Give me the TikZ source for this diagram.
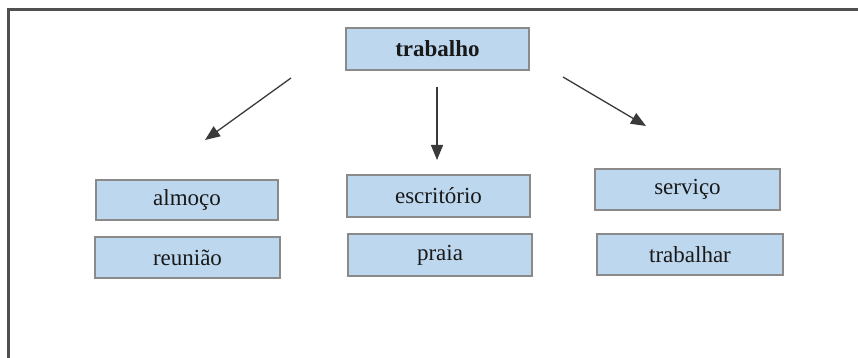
\documentclass[tikz,border=0pt]{standalone}
\usepackage{fontspec}
\setmainfont{Liberation Serif}
\usetikzlibrary{arrows.meta}
\definecolor{boxfill}{HTML}{BDD7EE}
\definecolor{boxline}{HTML}{8A8A8A}
\definecolor{framegray}{HTML}{505050}
\definecolor{inkgray}{HTML}{3A3A3A}
\begin{document}
\begin{tikzpicture}[x=1pt,y=-1pt,
  wordbox/.style={draw=boxline, line width=1.9pt, fill=boxfill, inner sep=0pt,
    minimum width=184pt, minimum height=41pt, text=black!90,
    font=\fontsize{23}{27}\selectfont},
  linkarrow/.style={draw=inkgray, line width=1.3pt,
    -{Triangle[length=15pt,width=12pt]}}]
  \useasboundingbox (0,0) rectangle (858,358);
  % open frame: top and left rules only
  \draw[framegray, line width=2.3pt] (858,9.5) -- (8.5,9.5) -- (8.5,358);

  % head word
  \node[wordbox, minimum width=183pt, minimum height=42pt,
        font=\fontsize{23}{27}\selectfont\bfseries] (top) at (437.5,49) {trabalho};

  % word columns
  \node[wordbox, minimum width=182pt, minimum height=40pt] (almoco) at (187,200) {almoço};
  \node[wordbox, minimum width=185pt] (reuniao) at (187.5,257.5) {reunião};
  \node[wordbox, minimum width=183pt, minimum height=42pt] (escritorio) at (438.5,196) {escritório};
  \node[wordbox, minimum height=42pt] (praia) at (440,255) {praia};
  \node[wordbox, minimum width=185pt] (servico) at (687.5,189.5) {serviço};
  \node[wordbox, minimum width=186pt] (trabalhar) at (690,254.5) {trabalhar};

  % arrow ends
  \coordinate (lstart) at (291,78);
  \coordinate (lend) at (205,140);
  \coordinate (cstart) at (437,87);
  \coordinate (cend) at (437,160);
  \coordinate (rstart) at (563,77);
  \coordinate (rend) at (646,126);

  \draw[linkarrow] (lstart) -- (lend);
  \draw[linkarrow] (cstart) -- (cend);
  \draw[linkarrow] (rstart) -- (rend);
\end{tikzpicture}
\end{document}
